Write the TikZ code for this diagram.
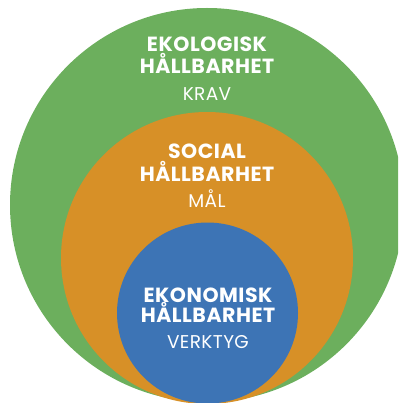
\documentclass[tikz,border=0pt]{standalone}
\usepackage{fontspec}
\setmainfont{Poppins}
\definecolor{ekogreen}{HTML}{6CAF5D}
\definecolor{socorange}{HTML}{D79027}
\definecolor{ekoblue}{HTML}{3D74B5}
\begin{document}
\begin{tikzpicture}[x=1pt,y=-1pt,
  title/.style={text=white,font=\bfseries\fontsize{20.5}{20.5}\selectfont\addfontfeatures{LetterSpace=2.5},anchor=base,inner sep=0pt},
  sub/.style={text=white,font=\fontsize{18.5}{18.5}\selectfont\addfontfeatures{LetterSpace=2},anchor=base,inner sep=0pt}]
\useasboundingbox (0,0) rectangle (398,403);
\clip (0,0) rectangle (398,403);
\fill[ekogreen] (207,205) circle (197);
\fill[socorange] (207,258) circle (146);
\fill[ekoblue] (207.5,313) circle (90.5);
\node[title] (e1) at (207,52) {EKOLOGISK};
\node[title] (e2) at (207,74) {HÅLLBARHET};
\node[sub] (e3) at (207,101) {KRAV};
\node[title] (s1) at (207,158) {SOCIAL};
\node[title] (s2) at (207,181) {HÅLLBARHET};
\node[sub] (s3) at (207,207) {MÅL};
\node[title] (k1) at (208,302) {EKONOMISK};
\node[title] (k2) at (208,322) {HÅLLBARHET};
\node[sub] (k3) at (208,348) {VERKTYG};
\end{tikzpicture}
\end{document}
